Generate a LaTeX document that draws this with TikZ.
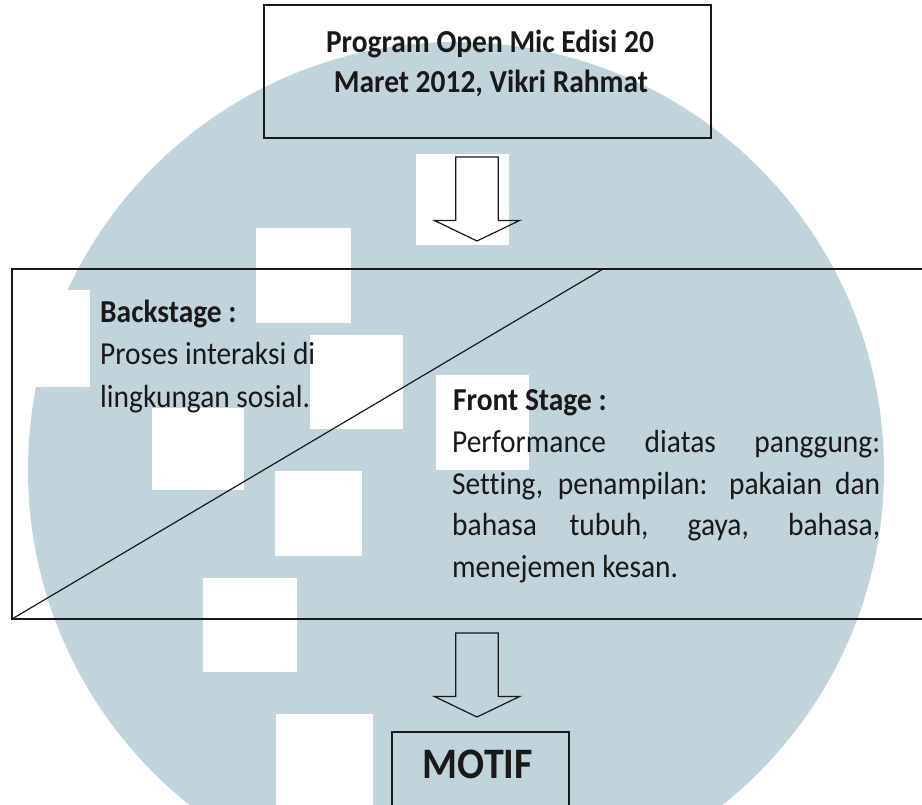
\documentclass[tikz,border=0pt]{standalone}
\usepackage{fontspec}
\setmainfont{Carlito}[FakeStretch=0.92, Ligatures=NoCommon]
\usepackage{tikz}

\definecolor{markblue}{RGB}{193,212,219}

\begin{document}
\begin{tikzpicture}[x=1pt, y=-1pt,
    box/.style={draw=black!90, line width=1.2pt},
    bodytext/.style={anchor=base west, inner sep=0pt, text=black!90, font=\fontsize{32}{42}\selectfont},
    headtext/.style={bodytext, font=\fontsize{32}{42}\selectfont\bfseries},
    downarrow/.pic={\draw[box, line join=miter] (-21.3,0) -- (21.3,0) -- (21.3,63.5) -- (42.6,63.5)
        -- (0,84) -- (-42.6,63.5) -- (-21.3,63.5) -- cycle;}]
    \useasboundingbox (0,0) rectangle (922,805);

    % Watermark
    \fill[markblue] (456,470) circle (428);
    \fill[white] (0,290) rectangle (90,387);
    \foreach \xa/\ya/\xb/\yb in {416/154/509/245, 256/228/351/323, 310/335/403/429,
        152/408/244/490, 436/375/529/470, 275/471/362/556, 203/578/297/672, 276/714/373/805}
        \fill[white] (\xa,\ya) rectangle (\xb,\yb);

    % Program box
    \node[box, minimum width=447pt, minimum height=133pt, inner sep=0pt] (program) at (487.5,71.5) {};
    \node[headtext, anchor=base] (progA) at (490,53) {Program Open Mic Edisi 20};
    \node[headtext, anchor=base] (progB) at (491,93) {Maret 2012, Vikri Rahmat};

    \pic at (477,157) {downarrow};

    % Stage box, split by the diagonal
    \coordinate (stageSW) at (12,619);
    \coordinate (stageNE) at (945,269);
    \coordinate (split) at (603,269);
    \draw[box] (stageSW) rectangle (stageNE);
    \draw[box] (stageSW) -- (split);

    % Backstage
    \node[headtext] (backHead) at (100,323) {Backstage :};
    \node[bodytext] (backA) at (100,364) {Proses interaksi di};
    \node[bodytext] (backB) at (100,407) {lingkungan sosial.};

    % Front stage
    \node[headtext] (frontHead) at (453,410) {Front Stage :};
    \node[bodytext] (frontA) at (452,452) {\makebox[428pt][s]{Performance diatas panggung:}};
    \node[bodytext] (frontB) at (452,494) {\makebox[428pt][s]{Setting, penampilan: pakaian dan}};
    \node[bodytext] (frontC) at (452,535) {\makebox[428pt][s]{bahasa tubuh, gaya, bahasa,}};
    \node[bodytext] (frontD) at (452,577) {menejemen kesan.};

    \pic at (477,633) {downarrow};

    % Motif box
    \draw[box] (392,732) rectangle (569,830);
    \node[headtext, anchor=base, font=\fontsize{43.5}{48}\selectfont\bfseries] (motif) at (478,778) {MOTIF};
\end{tikzpicture}
\end{document}
